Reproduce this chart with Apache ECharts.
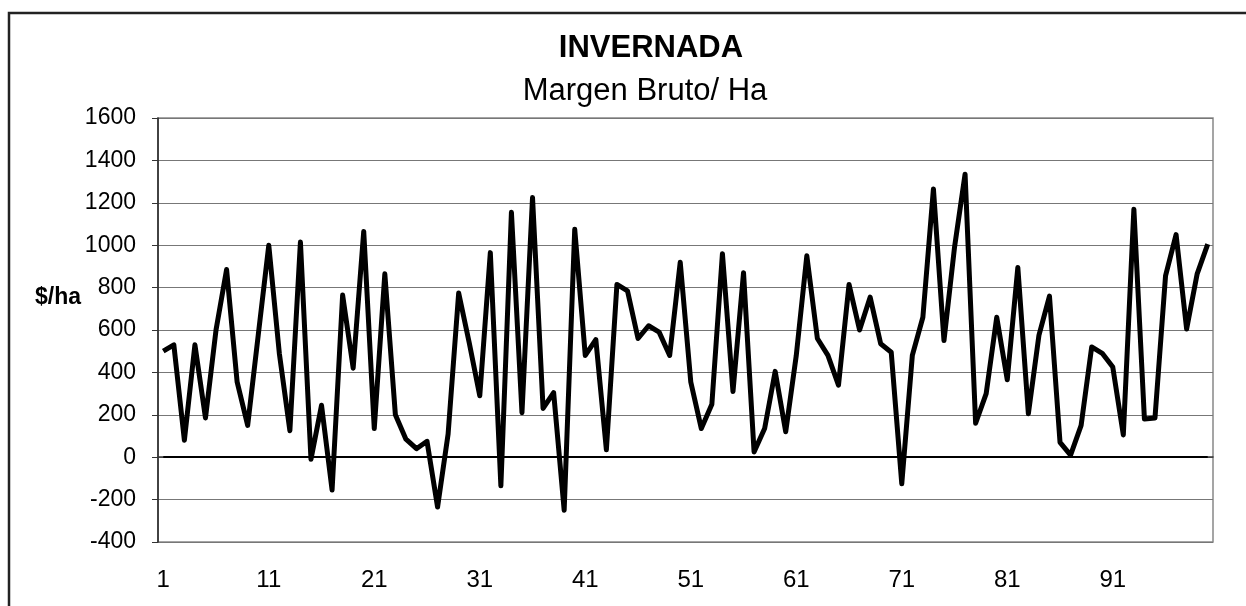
<!DOCTYPE html>
<html>
<head>
<meta charset="utf-8">
<script src="https://cdn.jsdelivr.net/npm/echarts@6/dist/echarts.min.js"></script>
<style>
  html, body { margin: 0; padding: 0; background: #fff; }
  #chart { width: 1246px; height: 606px; }
</style>
</head>
<body>
<div id="chart"></div>
<script>
// categorias 1..100 (numero de caso)
const categorias = Array.from({ length: 100 }, (_, i) => String(i + 1))

// margen bruto por hectarea
const margen = [
  500, 530, 80, 530, 185, 600, 885, 355, 150, 575,
  1000, 490, 125, 1015, -10, 245, -155, 765, 420, 1065,
  135, 865, 200, 85, 40, 75, -235, 110, 775, 540,
  290, 965, -135, 1155, 210, 1225, 230, 305, -250, 1075,
  480, 555, 35, 815, 785, 560, 620, 590, 480, 920,
  355, 135, 250, 960, 310, 870, 25, 135, 405, 120,
  480, 950, 560, 480, 340, 815, 600, 755, 535, 495,
  -125, 480, 660, 1265, 550, 990, 1335, 160, 300, 660,
  365, 895, 205, 575, 760, 70, 10, 150, 520, 490,
  425, 105, 1170, 180, 185, 855, 1050, 605, 865, 1005
]

const yMin = -400
const yMax = 1600
const yPaso = 200

const chart = echarts.init(document.getElementById('chart'))

const font = '"Liberation Sans", Arial, sans-serif'

chart.setOption({
  backgroundColor: '#fff',
  animation: false,
  title: [
    {
      text: 'INVERNADA',
      left: 646,
      top: 28,
      textAlign: 'center',
      textStyle: { fontFamily: font, fontSize: 31, fontWeight: 'bold', color: '#000' }
    },
    {
      text: 'Margen Bruto/ Ha',
      left: 640,
      top: 71,
      textAlign: 'center',
      textStyle: { fontFamily: font, fontSize: 31, fontWeight: 'normal', color: '#000' }
    }
  ],
  graphic: [
    {
      type: 'rect',
      shape: { x: 9, y: 13, width: 1400, height: 800 },
      style: { fill: 'none', stroke: '#222', lineWidth: 2.5 },
      silent: true
    },
    {
      type: 'text',
      left: 35,
      top: 286,
      style: { text: '$/ha', fontFamily: font, fontSize: 23, fontWeight: 'bold', fill: '#000' }
    }
  ],
  grid: {
    left: 158,
    right: 33,
    top: 118,
    bottom: 64,
    show: true,
    borderColor: '#888',
    borderWidth: 1.5
  },
  xAxis: {
    type: 'category',
    data: categorias,
    boundaryGap: true,
    axisLine: { lineStyle: { color: '#333', width: 1.5 } },
    axisTick: { interval: 0, length: 6, lineStyle: { color: '#555' } },
    axisLabel: {
      interval: (i) => i % 10 === 0,
      fontFamily: font,
      fontSize: 24,
      color: '#000',
      margin: 26
    },
    splitLine: { show: false }
  },
  yAxis: {
    type: 'value',
    min: yMin,
    max: yMax,
    interval: yPaso,
    axisLine: { show: true, lineStyle: { color: '#222', width: 1.5 } },
    axisTick: { show: true, length: 6, lineStyle: { color: '#333' } },
    axisLabel: {
      fontFamily: font,
      fontSize: 23,
      color: '#000',
      margin: 22,
      formatter: (v) => String(v)
    },
    splitLine: { lineStyle: { color: '#777', width: 1.2 } }
  },
  series: [
    {
      type: 'line',
      data: margen,
      showSymbol: false,
      lineStyle: { color: '#000', width: 5, join: 'round' },
      markLine: {
        silent: true,
        symbol: 'none',
        label: { show: false },
        lineStyle: { color: '#000', width: 1.8, type: 'solid' },
        data: [[{ coord: ['1', 0] }, { coord: ['100', 0] }]]
      }
    }
  ]
})
</script>
</body>
</html>
